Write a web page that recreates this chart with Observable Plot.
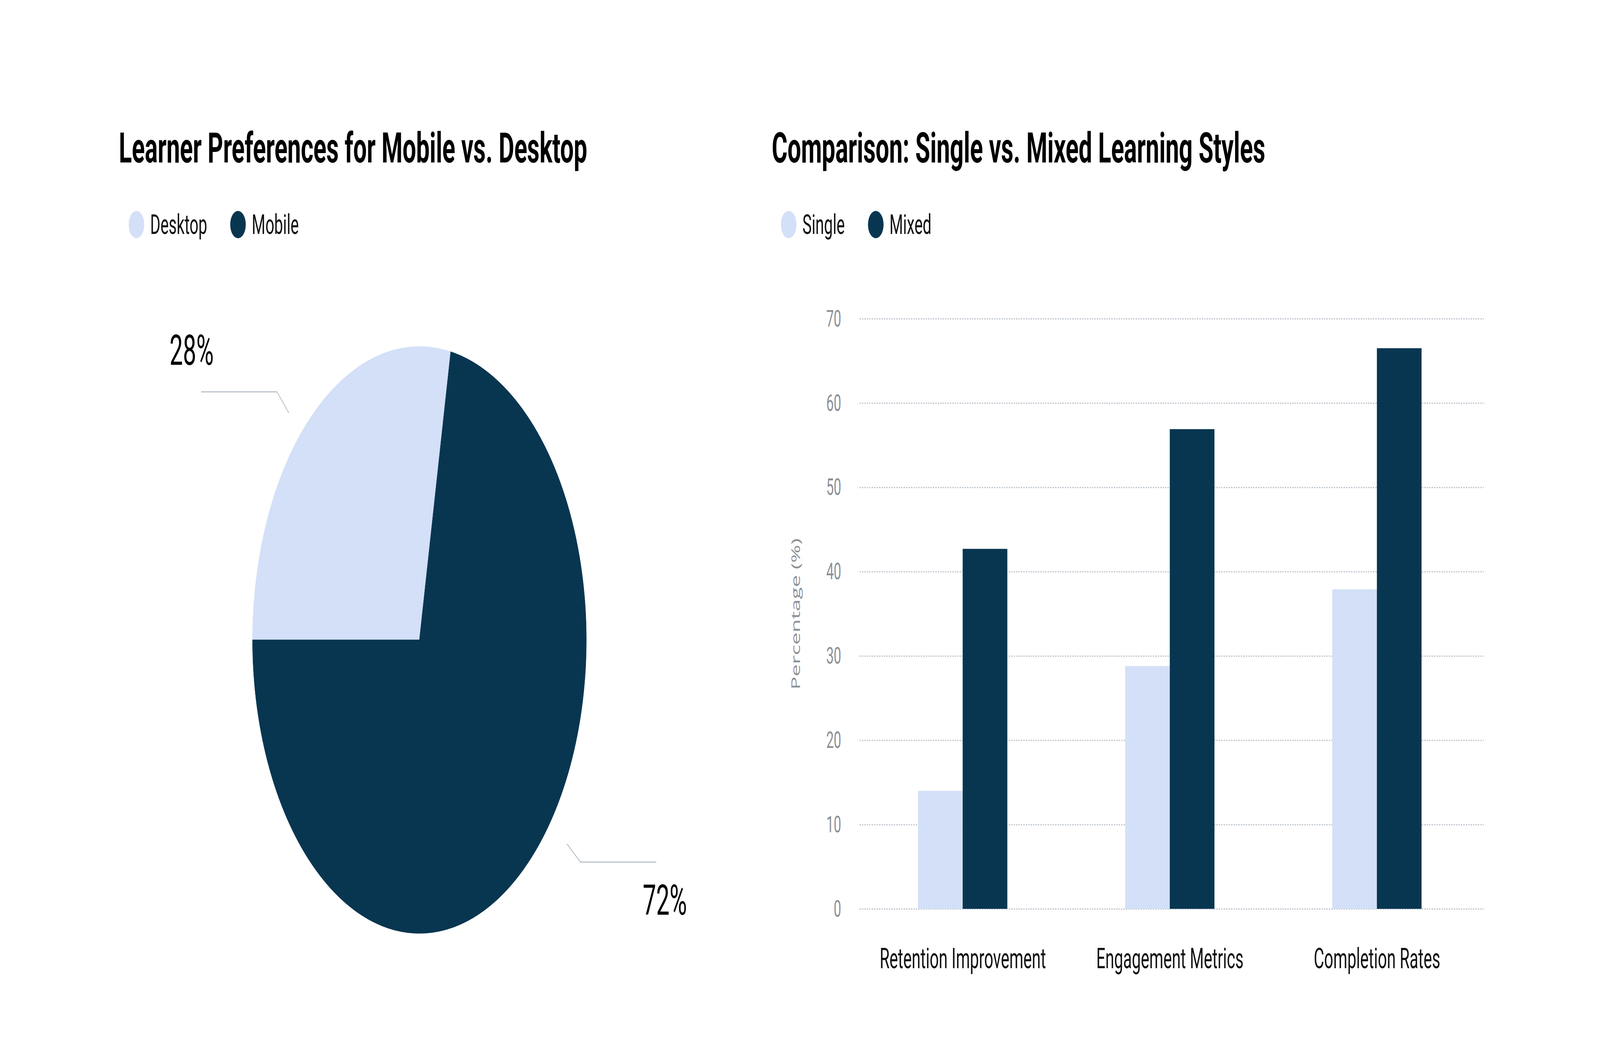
<!DOCTYPE html>
<html><head><meta charset="utf-8">
<script src="https://cdn.jsdelivr.net/npm/d3@7"></script>
<script src="https://cdn.jsdelivr.net/npm/@observablehq/plot@0.6"></script>
<style>
html,body{margin:0;padding:0;background:#fff;overflow:hidden;}
#wrap{position:relative;overflow:hidden;background:#fff;}
#page{position:absolute;left:0;top:0;width:7200px;height:2691px;overflow:hidden;background:#fff;font-family:Roboto, sans-serif;transform-origin:0 0;}
.title{position:absolute;font-weight:700;font-size:108px;line-height:1;color:#000;white-space:nowrap;}
.legend{position:absolute;display:flex;align-items:center;font-size:70px;line-height:1;color:#111;white-space:nowrap;}
.legend .item{display:flex;align-items:center;margin-right:104px;}
.legend .sw{width:70px;height:70px;border-radius:50%;margin-right:27px;}
.chart{position:absolute;}
</style></head>
<body><div id="wrap"><div id="page">
<div class="title" style="left:535px;top:325px">Learner Preferences for Mobile vs. Desktop</div>
<div class="legend" id="leg1" style="left:579px;top:540px"></div>
<div class="chart" id="pie" style="left:0px;top:700px"></div>
<div class="title" style="left:3473px;top:325px">Comparison: Single vs. Mixed Learning Styles</div>
<div class="legend" id="leg2" style="left:3514px;top:540px"></div>
<div class="chart" id="bars" style="left:3400px;top:600px"></div>
</div></div>
<script>
// ---- data ----
const pieLabels = ["Desktop", "Mobile"];
const pieValues = [28, 72];
const pieColors = ["#d3e0f7", "#083651"];

const categories = ["Retention Improvement", "Engagement Metrics", "Completion Rates"];
const seriesNames = ["Single", "Mixed"];
const singleValues = [14.0, 28.8, 37.9];
const mixedValues = [42.7, 56.9, 66.5];
const barColors = ["#d3e0f7", "#083651"];
const yTicks = [0, 10, 20, 30, 40, 50, 60, 70];

// ---- fit the 7200x2691 page into the window (fills the whole window) ----
const PAGE_W = 7200, PAGE_H = 2691;
function fit() {
  const vw = document.documentElement.clientWidth || window.innerWidth || PAGE_W;
  const vh = window.innerHeight || document.documentElement.clientHeight || PAGE_H;
  const sx = vw / PAGE_W, sy = vh / PAGE_H;
  const page = document.getElementById("page"), wrap = document.getElementById("wrap");
  page.style.transform = `scale(${sx}, ${sy})`;
  wrap.style.width = vw + "px";
  wrap.style.height = vh + "px";
}
fit();
window.addEventListener("resize", fit);

// ---- legends ----
function legend(el, names, colors) {
  names.forEach((n, i) => {
    const it = document.createElement("div"); it.className = "item";
    const sw = document.createElement("div"); sw.className = "sw"; sw.style.background = colors[i];
    const tx = document.createElement("span"); tx.textContent = n;
    it.appendChild(sw); it.appendChild(tx); el.appendChild(it);
  });
}
legend(document.getElementById("leg1"), pieLabels, pieColors);
legend(document.getElementById("leg2"), seriesNames, barColors);

// ---- pie ----
const PW = 3600, PH = 1991, CX = 1887, CY = 938, R = 751;
const total = d3.sum(pieValues);
const arcs = d3.pie().sort(null).startAngle(-Math.PI / 2).endAngle(1.5 * Math.PI)(pieValues);
const slicePts = arcs.flatMap((a, i) => {
  const key = pieLabels[i];
  const pts = [{key, x: 0, y: 0}];
  const n = Math.ceil((a.endAngle - a.startAngle) / (Math.PI / 720));
  for (let k = 0; k <= n; k++) {
    const t = a.startAngle + (a.endAngle - a.startAngle) * k / n;
    pts.push({key, x: Math.sin(t), y: Math.cos(t)});
  }
  pts.push({key, x: 0, y: 0});
  return pts;
});
const anchorFrac = 0.45, r1 = 1.115, r2 = 1.215, hLen = 340 / R;
const leaders = arcs.map((a, i) => {
  const t = a.startAngle + (a.endAngle - a.startAngle) * anchorFrac;
  const s = Math.sin(t), c = Math.cos(t), side = s < 0 ? -1 : 1;
  return {key: pieLabels[i], side, upper: c > 0,
    text: Math.round(pieValues[i] / total * 100) + "%",
    pts: [{x: r1 * s, y: r1 * c}, {x: r2 * s, y: r2 * c}, {x: r2 * s + side * hLen, y: r2 * c}]};
});
const leaderPts = leaders.flatMap(l => l.pts.map(p => ({key: l.key, ...p})));
const labelPts = leaders.map(l => ({...l.pts[2], text: l.text, side: l.side, upper: l.upper}));

const pie = Plot.plot({
  width: PW, height: PH, margin: 0,
  style: {background: "transparent", fontFamily: "Roboto"},
  x: {domain: [-CX / R, (PW - CX) / R], axis: null},
  y: {domain: [-(PH - CY) / R, CY / R], axis: null},
  color: {domain: pieLabels, range: pieColors},
  marks: [
    Plot.line(slicePts, {x: "x", y: "y", z: "key", fill: "key", stroke: "key", strokeWidth: 1.5}),
    Plot.line(leaderPts, {x: "x", y: "y", z: "key", stroke: "#b9c1ca", strokeWidth: 3, dy: 14}),
    Plot.text(labelPts.filter(d => d.upper), {x: "x", y: "y", text: "text", textAnchor: "middle", lineAnchor: "bottom",
      dx: -44, dy: -55, fontSize: 107, fill: "#000"}),
    Plot.text(labelPts.filter(d => !d.upper), {x: "x", y: "y", text: "text", textAnchor: "middle", lineAnchor: "top",
      dx: 40, dy: 73, fontSize: 107, fill: "#000"})
  ]
});
document.getElementById("pie").appendChild(pie);

// ---- bars ----
const BW = 3400, BH = 2000, mL = 468, mR = 123, mT = 216, mB = 273;
const pIn = 0.5687, pOut = 0.2913, bAlign = 0.485;
const step = (BW - mL - mR) / (categories.length - pIn + 2 * pOut);
const bandW = step * (1 - pIn);
const singleRows = categories.map((c, i) => ({category: c, series: "Single", value: singleValues[i]}));
const mixedRows = categories.map((c, i) => ({category: c, series: "Mixed", value: mixedValues[i]}));

const bars = Plot.plot({
  width: BW, height: BH, marginLeft: mL, marginRight: mR, marginTop: mT, marginBottom: mB,
  style: {background: "transparent", fontFamily: "Roboto", overflow: "visible"},
  x: {domain: categories, paddingInner: pIn, paddingOuter: pOut, align: bAlign, label: null},
  y: {domain: [0, 70], label: null},
  color: {domain: seriesNames, range: barColors},
  marks: [
    Plot.gridY(yTicks, {stroke: "#b9c1ca", strokeOpacity: 1, strokeWidth: 3, strokeDasharray: "6,5"}),
    Plot.barY(singleRows, {x: "category", y: "value", fill: "series", insetRight: bandW / 2}),
    Plot.barY(mixedRows, {x: "category", y: "value", fill: "series", insetLeft: bandW / 2}),
    Plot.axisY(yTicks, {tickSize: 0, tickPadding: 83, fontSize: 60, color: "#8b9096", label: null}),
    Plot.axisX({tickSize: 0, tickPadding: 100, fontSize: 72, color: "#111", label: null}),
    Plot.text(["Percentage (%)"], {text: d => d, frameAnchor: "left", rotate: -90, dx: -268, lineAnchor: "bottom",
      textAnchor: "middle", fontSize: 56, fill: "#8b9096", fontFamily: "Open Sans"})
  ]
});
document.getElementById("bars").appendChild(bars);
</script>
</body></html>
